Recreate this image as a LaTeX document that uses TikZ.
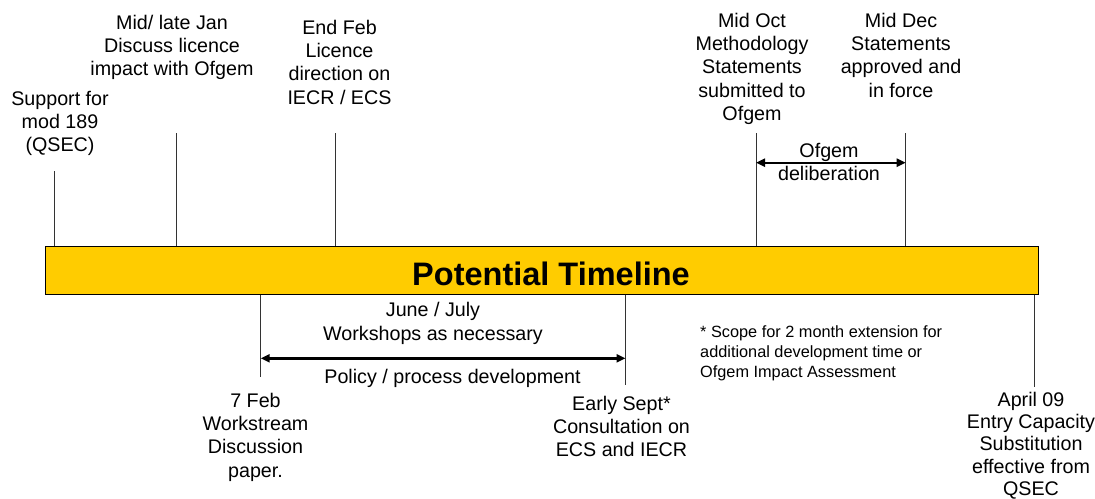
\documentclass[tikz,border=0pt]{standalone}
\usepackage{fontspec}
\setmainfont{Liberation Sans}
\usetikzlibrary{arrows.meta}
\definecolor{baryellow}{HTML}{FFCC00}
\definecolor{tickgray}{HTML}{333333}
\begin{document}
\begin{tikzpicture}[x=1pt,y=-1pt,
  lbl/.style={font=\fontsize{19.7}{23.3}\selectfont, align=center, inner sep=0pt, anchor=north, execute at begin node=\strut},
  note/.style={font=\fontsize{16.3}{20}\selectfont, align=left, inner sep=0pt, anchor=north west, execute at begin node=\strut},
  titlebar/.style={draw=black, line width=1pt, fill=baryellow, minimum width=993pt, minimum height=48pt, inner sep=0pt},
  tick/.style={draw=tickgray, line width=0.9pt},
  span/.style={draw=black, line width=2.4pt, {Triangle[length=9pt,width=8pt]}-{Triangle[length=9pt,width=8pt]}}
]
\useasboundingbox (0,0) rectangle (1095,498);

% bar
\node[titlebar] (bar) at (541.5,270) {};
\node[font=\fontsize{32.5}{36}\selectfont\bfseries, inner sep=0pt, anchor=base] (title) at (551,285) {Potential Timeline};

% top labels
\node[lbl] (sup) at (60,90.7) {Support for\\mod 189\\(QSEC)};
\node[lbl] (jan) at (172,14.7) {Mid/ late Jan\\Discuss licence\\impact with Ofgem};
\node[lbl] (feb) at (339.5,19.7) {End Feb\\Licence\\direction on\\IECR / ECS};
\node[lbl] (oct) at (752,12.7) {Mid Oct\\Methodology\\Statements\\submitted to\\Ofgem};
\node[lbl] (dec) at (901,12.7) {Mid Dec\\Statements\\approved and\\in force};
\node[lbl] (delib) at (829,142.7) {Ofgem\\deliberation};

% bottom labels
\node[lbl] (june) at (433,302.4) {June / July\\Workshops as necessary};
\node[lbl] (policy) at (452.5,367.4) {Policy / process development};
\node[lbl] (feb7) at (255.5,392.7) {7 Feb\\Workstream\\Discussion\\paper.};
\node[lbl] (sept) at (621.5,395.7) {Early Sept*\\Consultation on\\ECS and IECR};
\node[lbl, font=\fontsize{19.7}{22.4}\selectfont] (april) at (1031,391.7) {April 09\\Entry Capacity\\Substitution\\effective from\\QSEC};
\node[note] (scope) at (700,325.5) {* Scope for 2 month extension for\\additional development time or\\Ofgem Impact Assessment};

% tick coordinates
\coordinate (tSup) at (54.5,171);
\coordinate (tJan) at (176.7,133);
\coordinate (tFeb) at (335,133);
\coordinate (tOct) at (756,133);
\coordinate (tDec) at (905.7,133);
\coordinate (bFeb7) at (260.7,377);
\coordinate (bSept) at (625.5,385);
\coordinate (bApril) at (1034,387);

\draw[tick] (tSup) -- (tSup |- bar.north);
\draw[tick] (tJan) -- (tJan |- bar.north);
\draw[tick] (tFeb) -- (tFeb |- bar.north);
\draw[tick] (tOct) -- (tOct |- bar.north);
\draw[tick] (tDec) -- (tDec |- bar.north);
\draw[tick] (bFeb7 |- bar.south) -- (bFeb7);
\draw[tick] (bSept |- bar.south) -- (bSept);
\draw[tick] (bApril |- bar.south) -- (bApril);

% spans
\coordinate (aOctL) at (756,162.7);
\coordinate (aDecR) at (905.7,162.7);
\draw[span] (aOctL) -- (aDecR);
\coordinate (aFebL) at (260.7,358.3);
\coordinate (aSeptR) at (625.5,358.3);
\draw[span] (aFebL) -- (aSeptR);
\end{tikzpicture}
\end{document}
